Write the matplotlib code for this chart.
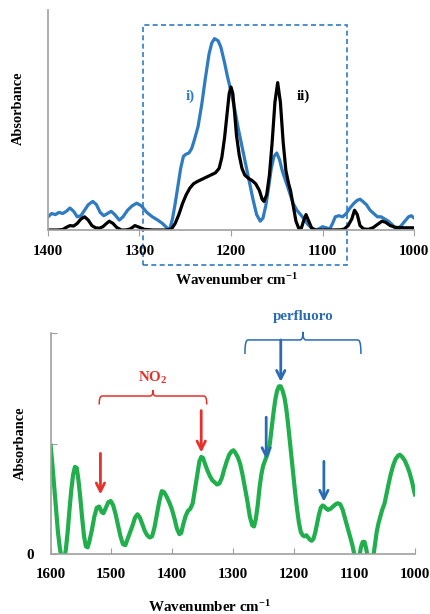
import matplotlib
matplotlib.use('Agg')
import matplotlib.pyplot as plt
from matplotlib.patches import Rectangle
import numpy as np

plt.rcParams['font.family'] = ['Liberation Serif', 'DejaVu Serif']
plt.rcParams['font.weight'] = 'bold'
plt.rcParams['mathtext.fontset'] = 'custom'
plt.rcParams['mathtext.rm'] = 'Liberation Serif:bold'
plt.rcParams['mathtext.bf'] = 'Liberation Serif:bold'
plt.rcParams['mathtext.default'] = 'bf'

# 上图: 两条光谱 i) 与 ii)
wn_i = [1400, 1396, 1392, 1388, 1384, 1380, 1376, 1372, 1368, 1364, 1360, 1356, 1351, 1347, 1343,
        1339, 1335, 1331, 1327, 1322, 1318, 1313, 1308, 1303, 1298, 1292, 1286, 1280, 1275, 1270,
        1267, 1264, 1261, 1258, 1255, 1252, 1249, 1246, 1243, 1240, 1236, 1232, 1228, 1224, 1221,
        1218, 1214, 1211, 1207, 1204, 1200, 1196, 1192, 1188, 1184, 1180, 1176, 1172, 1168, 1165,
        1162, 1159, 1156, 1153, 1150, 1147, 1144, 1140, 1136, 1132, 1128, 1124, 1120, 1116, 1112,
        1108, 1104, 1100, 1096, 1092, 1089, 1086, 1082, 1078, 1074, 1070, 1066, 1062, 1059, 1056,
        1052, 1048, 1044, 1040, 1036, 1032, 1028, 1024, 1020, 1017, 1014, 1010, 1006, 1003, 1000]
abs_i = [0.06, 0.075, 0.07, 0.08, 0.075, 0.085, 0.10, 0.085, 0.06, 0.065, 0.09, 0.115, 0.13, 0.115, 0.08,
         0.065, 0.075, 0.085, 0.07, 0.045, 0.06, 0.09, 0.11, 0.122, 0.11, 0.08, 0.06, 0.045, 0.03, 0.01,
         0.003, 0.05, 0.12, 0.2, 0.28, 0.335, 0.345, 0.35, 0.37, 0.41, 0.47, 0.57, 0.69, 0.80, 0.85,
         0.87, 0.86, 0.83, 0.76, 0.70, 0.63, 0.55, 0.46, 0.38, 0.30, 0.22, 0.14, 0.07, 0.04, 0.055,
         0.11, 0.19, 0.28, 0.335, 0.35, 0.32, 0.27, 0.22, 0.17, 0.12, 0.09, 0.07, 0.05, 0.025, 0.01,
         0.0, 0.005, 0.015, 0.01, 0.005, 0.03, 0.06, 0.065, 0.06, 0.075, 0.10, 0.12, 0.135, 0.14, 0.13,
         0.115, 0.09, 0.075, 0.06, 0.06, 0.05, 0.04, 0.025, 0.005, 0.005, 0.02, 0.04, 0.06, 0.065, 0.055]

wn_ii = [1400, 1390, 1384, 1380, 1376, 1372, 1368, 1364, 1360, 1356, 1352, 1348, 1344, 1340, 1336,
         1333, 1329, 1325, 1320, 1315, 1310, 1305, 1300, 1295, 1285, 1270, 1265, 1261, 1257, 1253,
         1249, 1245, 1241, 1237, 1232, 1227, 1222, 1217, 1213, 1210, 1207, 1204, 1202, 1200, 1198,
         1196, 1194, 1191, 1188, 1185, 1181, 1177, 1173, 1169, 1166, 1164, 1161, 1158, 1155, 1152,
         1149, 1146, 1143, 1140, 1137, 1135, 1132, 1129, 1126, 1123, 1120, 1118, 1115, 1112, 1108,
         1090, 1080, 1076, 1072, 1068, 1065, 1062, 1059, 1055, 1050, 1045, 1040, 1035, 1031, 1026,
         1020, 1010, 1000]
abs_ii = [0.0, 0.0, 0.002, 0.012, 0.02, 0.018, 0.03, 0.05, 0.06, 0.045, 0.02, 0.01, 0.008, 0.015, 0.03,
          0.04, 0.03, 0.012, 0.0, 0.0, 0.005, 0.02, 0.012, 0.003, 0.0, 0.0, 0.005, 0.03, 0.07, 0.12,
          0.16, 0.19, 0.21, 0.22, 0.23, 0.24, 0.25, 0.26, 0.28, 0.33, 0.42, 0.54, 0.62, 0.65, 0.62,
          0.53, 0.43, 0.34, 0.28, 0.25, 0.235, 0.225, 0.21, 0.18, 0.14, 0.13, 0.16, 0.25, 0.40, 0.58,
          0.67, 0.58, 0.40, 0.27, 0.21, 0.18, 0.11, 0.04, 0.008, 0.01, 0.05, 0.07, 0.04, 0.01, 0.0,
          0.0, 0.001, 0.005, 0.02, 0.05, 0.09, 0.07, 0.02, 0.005, 0.003, 0.01, 0.025, 0.04, 0.035, 0.02,
          0.012, 0.01, 0.01]

# 下图: 绿色光谱
wn_g = [1600, 1597, 1594, 1591, 1588, 1585, 1582, 1578, 1575, 1572, 1569, 1566, 1563, 1560, 1557,
        1554, 1551, 1548, 1545, 1542, 1539, 1536, 1532, 1528, 1524, 1520, 1516, 1513, 1509, 1505,
        1501, 1497, 1493, 1489, 1485, 1481, 1477, 1473, 1469, 1465, 1461, 1457, 1453, 1449, 1445,
        1441, 1437, 1433, 1429, 1425, 1421, 1417, 1413, 1409, 1404, 1400, 1396, 1392, 1388, 1385,
        1382, 1378, 1374, 1370, 1366, 1362, 1358, 1355, 1352, 1349, 1346, 1342, 1338, 1334, 1330,
        1326, 1322, 1318, 1314, 1310, 1306, 1302, 1299, 1296, 1292, 1288, 1284, 1280, 1276, 1272,
        1268, 1265, 1262, 1259, 1256, 1253, 1250, 1246, 1242, 1239, 1236, 1233, 1230, 1227, 1224,
        1221, 1218, 1215, 1212, 1209, 1206, 1203, 1200, 1197, 1194, 1191, 1188, 1185, 1182, 1179,
        1176, 1173, 1170, 1167, 1164, 1161, 1158, 1155, 1152, 1149, 1146, 1143, 1139, 1135, 1131,
        1127, 1123, 1119, 1115, 1111, 1107, 1103, 1100, 1096, 1092, 1089, 1086, 1083, 1080, 1077,
        1073, 1069, 1066, 1063, 1060, 1057, 1054, 1050, 1047, 1044, 1040, 1036, 1032, 1028, 1025,
        1021, 1017, 1013, 1009, 1005, 1001, 1000]
abs_g = [0.49, 0.40, 0.30, 0.20, 0.10, 0.03, -0.02, -0.03, 0.02, 0.10, 0.20, 0.29, 0.36, 0.395, 0.39,
         0.33, 0.25, 0.16, 0.08, 0.035, 0.03, 0.06, 0.11, 0.17, 0.21, 0.215, 0.19, 0.185, 0.21, 0.235,
         0.24, 0.22, 0.18, 0.13, 0.08, 0.045, 0.04, 0.07, 0.10, 0.13, 0.165, 0.18, 0.165, 0.135, 0.105,
         0.085, 0.075, 0.08, 0.12, 0.18, 0.24, 0.285, 0.28, 0.26, 0.23, 0.20, 0.16, 0.115, 0.09, 0.095,
         0.13, 0.17, 0.195, 0.205, 0.23, 0.30, 0.37, 0.42, 0.44, 0.435, 0.41, 0.38, 0.355, 0.335, 0.325,
         0.315, 0.32, 0.345, 0.385, 0.42, 0.45, 0.465, 0.47, 0.46, 0.44, 0.41, 0.36, 0.30, 0.24, 0.17,
         0.13, 0.125, 0.16, 0.22, 0.30, 0.36, 0.40, 0.43, 0.46, 0.50, 0.57, 0.64, 0.70, 0.74, 0.76,
         0.76, 0.74, 0.71, 0.66, 0.59, 0.51, 0.43, 0.35, 0.27, 0.20, 0.14, 0.10, 0.085, 0.08, 0.085,
         0.075, 0.065, 0.06, 0.07, 0.10, 0.14, 0.18, 0.21, 0.22, 0.215, 0.205, 0.20, 0.205, 0.215, 0.225,
         0.23, 0.225, 0.20, 0.16, 0.12, 0.08, 0.04, 0.0, -0.03, -0.02, 0.03, 0.055, 0.055, 0.02, -0.03,
         -0.05, -0.02, 0.04, 0.10, 0.14, 0.17, 0.20, 0.23, 0.27, 0.31, 0.36, 0.40, 0.43, 0.445, 0.45,
         0.44, 0.425, 0.40, 0.37, 0.33, 0.28, 0.27]

top_ticks = [1400, 1300, 1200, 1100, 1000]
bot_ticks = [1600, 1500, 1400, 1300, 1200, 1100, 1000]

c_blue = '#2F7BC1'
c_anno_blue = '#2A6BB5'
c_red = '#E8302A'
c_green = '#21AF4E'
c_axis = '#A0A0A0'
fs = 10.8


def style_axes(ax):
    for s in ['top', 'right']:
        ax.spines[s].set_visible(False)
    for s in ['left', 'bottom']:
        ax.spines[s].set_color(c_axis)
        ax.spines[s].set_linewidth(1.2)


def qcurve(p0, p1, p2, n=8):
    # 二次贝塞尔曲线取点
    t = np.linspace(0, 1, n)[:, None]
    p0, p1, p2 = map(np.array, (p0, p1, p2))
    return (1 - t) ** 2 * p0 + 2 * (1 - t) * t * p1 + t ** 2 * p2


def brace(ax, x0, x1, y, drop, bump, color):
    # 花括号: 两端向下弯, 中间向上尖
    xm = (x0 + x1) / 2
    r = 5 if x0 > x1 else -5
    pts = np.vstack([
        qcurve((x0, y - drop), (x0, y), (x0 - r, y)),
        qcurve((xm + r, y), (xm, y), (xm, y + bump)),
        qcurve((xm, y + bump), (xm, y), (xm - r, y)),
        qcurve((x1 + r, y), (x1, y), (x1, y - drop)),
    ])
    ax.plot(pts[:, 0], pts[:, 1], color=color, lw=1.1, clip_on=False)


def arrow(ax, x, y0, y1, color):
    ax.annotate('', xy=(x, y1), xytext=(x, y0),
                arrowprops=dict(arrowstyle='->,head_length=0.6,head_width=0.3', color=color, lw=2.0,
                                shrinkA=0, shrinkB=0), annotation_clip=False)


fig = plt.figure(figsize=(4.3, 6.14), dpi=100)

# ---------- 上图 ----------
ax1 = fig.add_axes([0.1116, 0.6254, 0.8512, 0.3583])
ax1.plot(wn_i, abs_i, color=c_blue, lw=2.3, solid_joinstyle='round')
ax1.plot(wn_ii, abs_ii, color='black', lw=2.3, solid_joinstyle='round')
ax1.set_xlim(1400, 1000)
ax1.set_ylim(0, 1)
style_axes(ax1)
ax1.set_xticks(top_ticks)
ax1.set_yticks([])
ax1.tick_params(axis='x', direction='out', length=4, color=c_axis, labelsize=fs, pad=7)
ax1.text(0.516, -0.227, 'Wavenumber cm$^{-1}$', transform=ax1.transAxes, ha='center', va='center', fontsize=fs)
ax1.text(-0.08, 0.555, 'Absorbance', transform=ax1.transAxes, ha='center', va='center',
         rotation=90, fontsize=10.4)
ax1.text(1244, 0.606, 'i)', color=c_blue, ha='center', va='center', fontsize=fs)
ax1.text(1121, 0.606, 'ii)', color='black', ha='center', va='center', fontsize=fs)
box = Rectangle((1296, -0.159), 1073 - 1296, 0.932 + 0.159, transform=ax1.get_xaxis_transform(),
                fill=False, edgecolor=c_blue, lw=1.2, ls=(0, (3, 2)), clip_on=False)
ax1.add_patch(box)

# ---------- 下图 ----------
ax2 = fig.add_axes([0.1178, 0.0977, 0.8472, 0.3594])
ax2.plot(wn_g, abs_g, color=c_green, lw=3.0, solid_joinstyle='round')
ax2.set_xlim(1600, 1000)
ax2.set_ylim(0, 1)
style_axes(ax2)
ax2.set_xticks(bot_ticks)
ax2.set_yticks([0, 0.5, 1])
ax2.set_yticklabels(['0', '', ''])
ax2.tick_params(axis='x', direction='in', length=4, color=c_axis, labelsize=fs, pad=10)
ax2.tick_params(axis='y', direction='in', length=4, color=c_axis, labelsize=fs, pad=12)
ax2.text(0.437, -0.24, 'Wavenumber cm$^{-1}$', transform=ax2.transAxes, ha='center', va='center', fontsize=fs)
ax2.text(-0.084, 0.503, 'Absorbance', transform=ax2.transAxes, ha='center', va='center',
         rotation=90, fontsize=10.4)

brace(ax2, 1280, 1089, 0.97, 0.06, 0.035, c_anno_blue)
ax2.text(1184, 1.078, 'perfluoro', color=c_anno_blue, ha='center', va='center', fontsize=fs)
brace(ax2, 1520, 1343, 0.716, 0.035, 0.025, c_red)
ax2.text(1432, 0.80, 'NO$_2$', color=c_red, ha='center', va='center', fontsize=fs)

arrow(ax2, 1221, 0.97, 0.78, c_anno_blue)
arrow(ax2, 1245, 0.62, 0.43, c_anno_blue)
arrow(ax2, 1150, 0.42, 0.237, c_anno_blue)
arrow(ax2, 1518, 0.456, 0.27, c_red)
arrow(ax2, 1352, 0.65, 0.46, c_red)

fig.savefig('out.png', dpi=100)
